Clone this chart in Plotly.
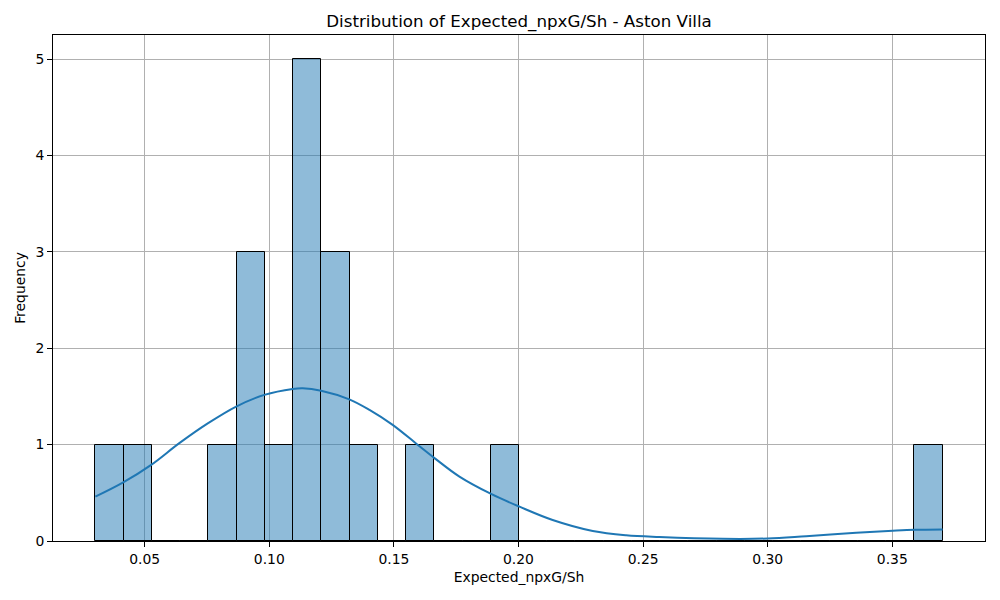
import numpy as np
import plotly.graph_objects as go

# histogram: 30 equal bins between the smallest and largest value
bin_start = 0.0302
bin_end = 0.3702
counts = [1, 1, 0, 0, 1, 3, 1, 5, 3, 1,
          0, 1, 0, 0, 1, 0, 0, 0, 0, 0,
          0, 0, 0, 0, 0, 0, 0, 0, 0, 1]

# kde curve (scaled to counts)
kde_x = [0.0302, 0.0412, 0.0526, 0.0639, 0.0753, 0.0867, 0.0980, 0.1094, 0.1134,
         0.1208, 0.1321, 0.1402, 0.1495, 0.1596, 0.1663, 0.1763, 0.1890, 0.2004,
         0.2137, 0.2298, 0.2432, 0.2565, 0.2819, 0.3000, 0.3154, 0.3355, 0.3502,
         0.3589, 0.3702]
kde_y = [0.46, 0.605, 0.79, 1.015, 1.22, 1.395, 1.516, 1.578, 1.585,
         1.56, 1.47, 1.36, 1.205, 0.997, 0.86, 0.668, 0.488, 0.356,
         0.218, 0.104, 0.06, 0.042, 0.023, 0.026, 0.05, 0.085, 0.106,
         0.116, 0.12]

edges = np.linspace(bin_start, bin_end, len(counts) + 1)
centers = (edges[:-1] + edges[1:]) / 2
width = edges[1] - edges[0]

font = "DejaVu Sans"

fig = go.Figure()
fig.add_trace(go.Bar(
    x=centers, y=counts, width=width,
    marker=dict(color="rgba(31,119,180,0.5)", line=dict(color="black", width=1)),
    showlegend=False,
))
fig.add_trace(go.Scatter(
    x=kde_x, y=kde_y, mode="lines", line=dict(color="#1f77b4", width=2, shape="spline"),
    showlegend=False,
))

axis_style = dict(
    showline=True, mirror=True, linecolor="black", linewidth=1,
    showgrid=True, gridcolor="#b0b0b0", gridwidth=1,
    ticks="outside", ticklen=5, tickcolor="black", tickwidth=1,
    tickfont=dict(family=font, size=13.9, color="black"),
    zeroline=False, automargin=False,
)

fig.update_layout(
    width=1000, height=600,
    plot_bgcolor="white", paper_bgcolor="white",
    margin=dict(l=53, r=15, t=35, b=59),
    title=dict(text="Distribution of Expected_npxG/Sh - Aston Villa",
               x=0.5, xref="paper", y=1 - 21 / 600, yanchor="middle",
               font=dict(family=font, size=16.7, color="black")),
    bargap=0,
)
fig.update_xaxes(range=[0.0132, 0.3872], tickvals=[0.05, 0.10, 0.15, 0.20, 0.25, 0.30, 0.35],
                 tickformat=".2f",
                 title=dict(text="Expected_npxG/Sh", font=dict(family=font, size=13.9, color="black"),
                            standoff=6),
                 **axis_style)
fig.update_yaxes(range=[0, 5.25], tickvals=[0, 1, 2, 3, 4, 5],
                 title=dict(text="Frequency", font=dict(family=font, size=13.9, color="black"),
                            standoff=6),
                 **axis_style)

# drop the browser's default body margin so the figure sits at the page corner
fig.write_html("out.html", config={"displayModeBar": False},
               post_script="document.body.style.margin='0px';")
